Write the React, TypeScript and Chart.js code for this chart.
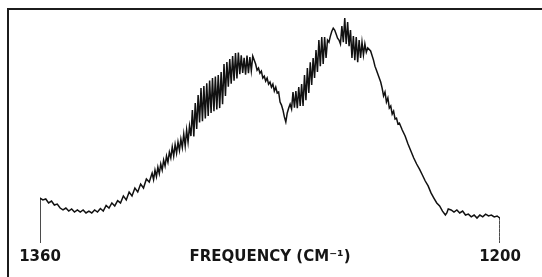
import { useEffect, useRef } from "react";
import { Chart, registerables } from "chart.js";

Chart.register(...registerables);

// Wavenumber (cm^-1) of each traced point, read left (1360) to right (1200)
const wavenumbers = [
  1360, 1360, 1359, 1358, 1357, 1356, 1355, 1354, 1353, 1352,
  1351, 1350, 1349, 1348, 1347, 1346, 1345, 1344, 1343, 1342, 1341, 1340,
  1339, 1338, 1337, 1336, 1335, 1334, 1333, 1332, 1331, 1330,
  1329, 1328, 1327, 1326, 1325, 1324, 1323, 1322, 1321,
  1320.5, 1320, 1319.5, 1319, 1318.5, 1318, 1317.5, 1317, 1316.5, 1316,
  1315.5, 1315, 1314.5, 1314, 1313.5, 1313, 1312.5, 1312, 1311.5, 1311,
  1310.5, 1310, 1309.5, 1309, 1308.5, 1308, 1307.5, 1307, 1306.5, 1306,
  1305.5, 1305, 1304.5, 1304, 1303.5, 1303, 1302.5, 1302, 1301.5, 1301,
  1300.5, 1300, 1299.5, 1299, 1298.5, 1298, 1297.5, 1297, 1296.5, 1296,
  1295.5, 1295, 1294.5, 1294, 1293.5, 1293, 1292.5, 1292, 1291.5, 1291,
  1290.5, 1290, 1289.5, 1289, 1288.5, 1288, 1287.5, 1287, 1286.5, 1286,
  1285, 1284.5, 1284, 1283.5, 1283, 1282.5, 1282, 1281.5, 1281, 1280.5,
  1280, 1279.5, 1279, 1278.5, 1278, 1277.5, 1277, 1276.5, 1276, 1275.5,
  1275, 1274.5, 1274, 1273.5, 1273, 1272.5, 1272, 1271.5, 1271, 1270.5,
  1270, 1269.5, 1269, 1268.5, 1268, 1267.5, 1267, 1266.5, 1266, 1265.5,
  1265, 1264.5, 1264, 1263.5, 1263, 1262.5, 1262, 1261.5, 1261, 1260.5,
  1260, 1259.5, 1259, 1258.5, 1258, 1257.5, 1257, 1256.5, 1256, 1255.5,
  1255, 1254.5, 1254, 1253.5, 1253, 1252.5, 1252, 1251.5, 1251, 1250.5,
  1250, 1249.5, 1249, 1248.5, 1248, 1247.5, 1247, 1246.5, 1246, 1245, 1244,
  1243.5, 1243, 1242, 1241.5, 1241, 1240.5, 1240, 1239.5, 1239, 1238.5,
  1238, 1237.5, 1237, 1236.5, 1236, 1235.5, 1235, 1234, 1233, 1232,
  1231, 1230, 1229, 1228, 1227, 1226, 1225, 1224, 1223, 1222,
  1221, 1220, 1219, 1218.5, 1218, 1217, 1216, 1215, 1214, 1213,
  1212, 1211, 1210, 1209, 1208, 1207, 1206, 1205, 1204, 1203,
  1202, 1201, 1200, 1200,
];

// Absorption (arbitrary units, 0 = pen baseline) at each wavenumber above
const absorbance = [
  0, 19.3, 18.5, 18.9, 17.2, 18.0, 16.3, 16.7, 15.0, 14.2,
  15.0, 13.7, 14.6, 13.3, 14.2, 13.3, 14.2, 12.9, 13.7, 12.9, 14.2, 13.3,
  14.8, 13.7, 16.1, 15.0, 17.2, 15.9, 18.2, 17.2, 20.2, 18.5,
  21.9, 20.2, 23.6, 21.9, 25.3, 23.6, 27.5, 26.2, 30.0,
  27.2, 31.3, 28.5, 32.6, 29.8, 33.9, 31.3, 35.6, 33.0, 37.3,
  34.7, 39.0, 36.5, 41.2, 37.3, 42.3, 38.6, 43.3, 39.7, 44.6,
  41.0, 46.8, 41.6, 48.5, 43.3, 50.2, 45.9, 57.1, 45.7, 60.1,
  48.9, 63.5, 51.7, 66.5, 52.3, 67.4, 53.4, 68.6, 54.5, 69.7,
  55.8, 70.8, 56.6, 71.4, 57.3, 72.1, 57.9, 73.4, 59.6, 76.8,
  63.1, 77.7, 67.1, 78.9, 68.4, 80.2, 69.7, 81.5, 70.6, 81.7,
  72.5, 80.6, 73.0, 79.5, 72.2, 80.4, 72.9, 79.8, 74.0, 80.2,
  76.8, 74.2, 75.1, 72.9, 73.8, 70.8, 71.6, 69.5, 70.8, 68.2,
  69.1, 66.9, 68.2, 65.2, 66.9, 64.4, 64.8, 60.5, 59.2, 57.1,
  54.1, 51.9, 55.8, 57.9, 59.6, 57.5, 64.8, 58.1, 65.2, 57.9,
  66.9, 58.8, 68.2, 58.8, 72.1, 61.3, 75.1, 64.4, 77.6, 67.8,
  79.4, 70.8, 82.8, 73.4, 87.1, 75.9, 88.4, 76.8, 88.4, 79.4,
  87.1, 86.2, 88.8, 90.9, 92.2, 91.4, 89.7, 87.9, 87.1, 85.4,
  93.1, 86.2, 96.5, 85.4, 94.8, 84.5, 91.4, 79.4, 88.8, 78.5,
  88.4, 77.6, 87.1, 79.4, 86.2, 80.7, 85.4, 81.9, 83.7, 82.4, 78.5,
  75.9, 74.2, 70.8, 69.1, 66.5, 63.1, 64.8, 60.5, 62.3, 57.9,
  58.8, 55.3, 56.6, 53.2, 53.6, 51.1, 51.5, 48.5, 45.9, 42.5,
  39.5, 36.5, 33.9, 31.7, 29.2, 26.6, 24.5, 21.5, 19.3, 17.2,
  15.9, 13.7, 12.0, 12.9, 14.6, 14.2, 13.3, 14.2, 12.9, 13.7,
  12.0, 12.4, 11.2, 12.0, 10.7, 12.0, 11.2, 12.4, 11.6, 12.0,
  11.2, 11.6, 10.7, 0,
];

const tickValues = [1360, 1200];
const axisTitle = "FREQUENCY (CM⁻¹)";

export default function App() {
  const ref = useRef<HTMLCanvasElement>(null);

  useEffect(() => {
    document.body.style.margin = "0";
    const points = wavenumbers.map((x, i) => ({ x, y: absorbance[i] }));
    const last = points.length - 1;
    const labelFont = { family: "'DejaVu Sans', sans-serif", size: 15, weight: "bold" as const };
    const chart = new Chart(ref.current!, {
      type: "line",
      data: {
        datasets: [
          {
            data: points,
            borderColor: "#111111",
            borderWidth: 1.5,
            pointRadius: 0,
            tension: 0,
            segment: {
              borderDash: (c: any) => (c.p1DataIndex === last ? [2, 2] : undefined),
            },
          },
        ],
      },
      options: {
        animation: false,
        responsive: false,
        layout: { padding: { left: 40, right: 42, top: 10, bottom: 0 } },
        plugins: { legend: { display: false }, tooltip: { enabled: false } },
        scales: {
          x: {
            type: "linear",
            reverse: true,
            min: 1200,
            max: 1360,
            afterBuildTicks: (s: any) => {
              s.ticks = tickValues.map((v) => ({ value: v }));
            },
            grid: { display: false, drawTicks: false },
            border: { display: false },
            ticks: {
              font: labelFont,
              color: "#151515",
              padding: 5,
              maxRotation: 0,
              autoSkip: false,
              callback: (v: any) => String(v),
            },
            title: {
              display: true,
              text: axisTitle,
              font: labelFont,
              color: "#151515",
              padding: { top: -23, bottom: 11 },
            },
          },
          y: { display: false, min: 0, max: 100 },
        },
      },
    });
    return () => chart.destroy();
  }, []);

  return (
    <div style={{ position: "relative", width: 542, height: 277, background: "#fff" }}>
      <canvas ref={ref} width={542} height={277} style={{ display: "block" }} />
      <div
        style={{
          position: "absolute",
          left: 7,
          top: 8,
          width: 535,
          height: 269,
          borderLeft: "2px solid #1c1c1c",
          borderTop: "2px solid #1c1c1c",
          boxSizing: "border-box",
          pointerEvents: "none",
        }}
      />
    </div>
  );
}
